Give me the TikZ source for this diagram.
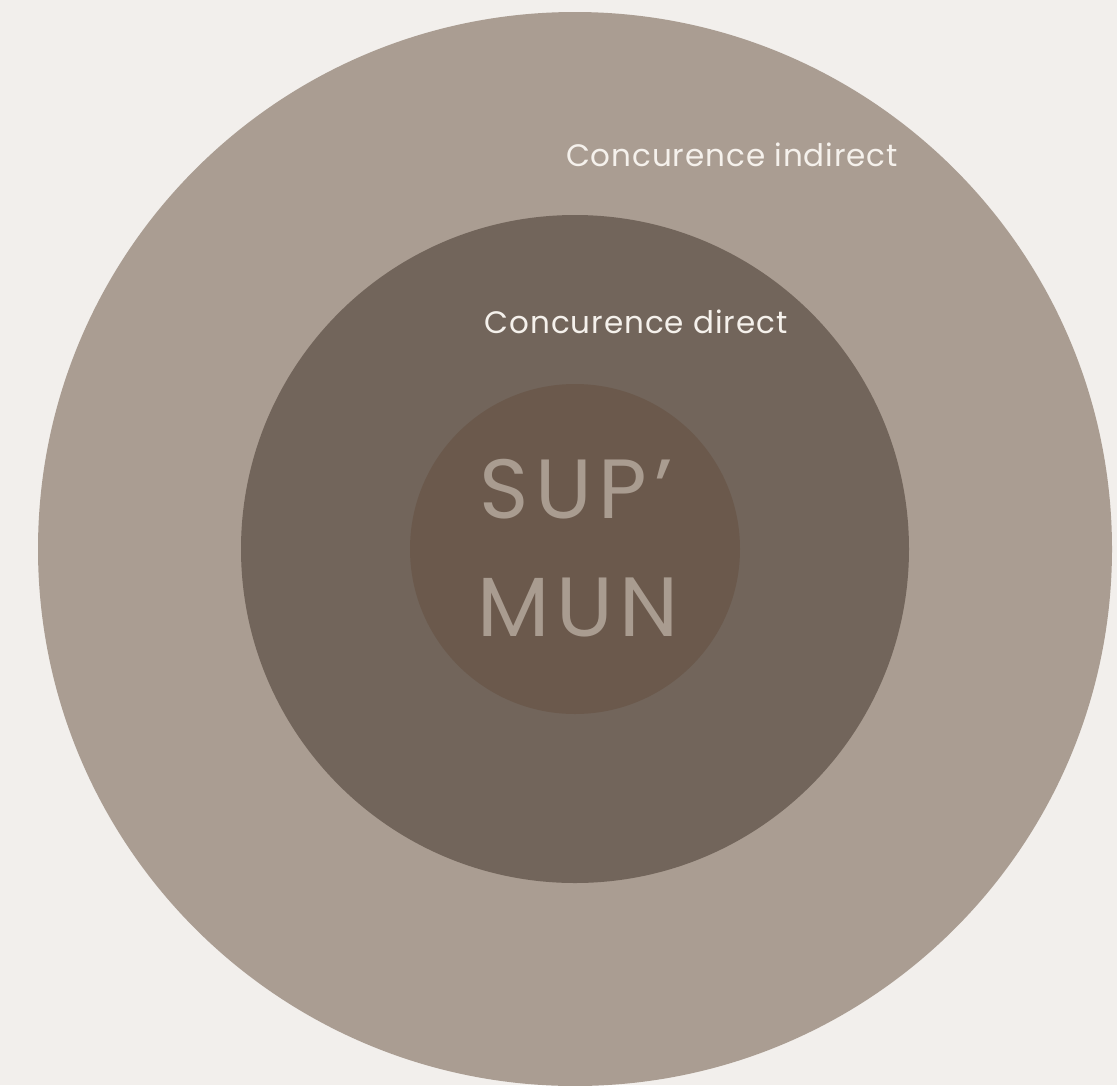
\documentclass[tikz,border=0pt]{standalone}
\usepackage{fontspec}
\setmainfont{Poppins}
\usepackage{xcolor}
\usepackage{tikz}
\definecolor{paper}{HTML}{F2EFEC}
\definecolor{outerring}{HTML}{AA9D92}
\definecolor{midring}{HTML}{72655B}
\definecolor{core}{HTML}{6B594C}
\definecolor{lighttext}{HTML}{F5F1EC}
\definecolor{coretext}{HTML}{A99C90}
\tikzstyle{ring} = [circle, draw=none, inner sep=0pt]
\tikzstyle{ringlabel} = [text=lighttext, inner sep=0pt,
font=\fontsize{31}{36}\selectfont\addfontfeatures{LetterSpace=3}]
\tikzstyle{corelabel} = [text=coretext, inner sep=0pt,
font=\fontsize{84}{90}\selectfont\addfontfeatures{LetterSpace=8}]

\begin{document}
\begin{tikzpicture}[x=1pt, y=-1pt]
        \fill[paper] (0,0) rectangle (1117,1085);
        \useasboundingbox (0,0) rectangle (1117,1085);
        \begin{scope}
            \clip (0,0) rectangle (1117,1085);
            \node [ring, fill=outerring, minimum size=1074pt] (outer) at (575,549) {};
        \end{scope}
        \node [ring, fill=midring, minimum size=668pt] (direct) at (575,549) {};
        \node [ring, fill=core, minimum size=330pt] (supmun) at (575,549) {};
        \node [ringlabel] (indirectlabel) at (732,155) {Concurence indirect};
        \node [ringlabel] (directlabel) at (636,322) {Concurence direct};
        \node [corelabel] (sup) at (576,489) {SUP’};
        \node [corelabel] (mun) at (578,607) {MUN};
    \end{tikzpicture}
\end{document}
